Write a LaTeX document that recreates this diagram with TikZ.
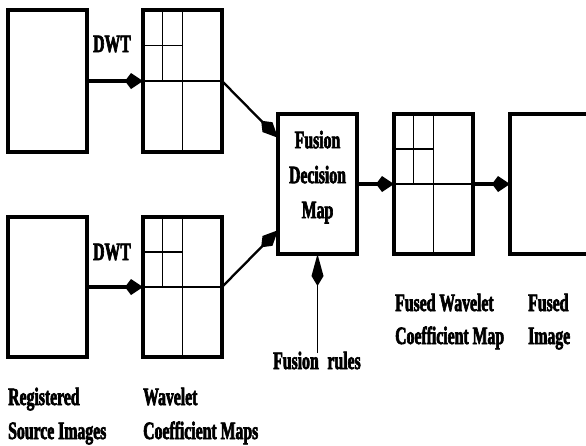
\documentclass[tikz,border=0pt]{standalone}
\usepackage{fontspec}
\newfontfamily\labfont[FakeStretch=0.63, BoldFeatures={FakeBold=2.5}]{Liberation Serif}
\usetikzlibrary{arrows.meta,calc}
\newcommand\wgrid[1]{%
  \draw[gridline] (#1.west) -- (#1.east) (#1.north) -- (#1.south)
    ($(#1.north west)!0.25!(#1.north east)$) -- ($(#1.west)!0.25!(#1.east)$)
    ($(#1.north west)!0.25!(#1.south west)$) -- ($(#1.north)!0.25!(#1.south)$);}
\begin{document}
\begin{tikzpicture}[x=1pt,y=-1pt,
  imgbox/.style={draw, line width=4.5pt, outer sep=0pt, inner sep=0pt,
    minimum width=79pt, minimum height=140pt},
  tallbox/.style={imgbox, minimum height=142pt},
  gridline/.style={line width=1.4pt},
  labfnt/.style={font=\labfont\bfseries\fontsize{25}{35}\selectfont},
  lab/.style={labfnt, inner sep=0pt, anchor=base west},
  harrow/.style={line width=3.2pt, -{Kite[length=18pt,width=16pt,inset=6pt]}},
  darrow/.style={line width=2.3pt, -{Kite[length=24pt,width=14pt,inset=9pt]}},
  rarrow/.style={line width=1.6pt, -{Kite[length=32pt,width=12pt,inset=10pt]}}]
\useasboundingbox (0,0) rectangle (586,445);
\clip (0,0) rectangle (586,445);
% boxes
\node[tallbox] (s1) at (47.5,81) {};
\node[tallbox] (w1) at (182.5,81) {};
\node[imgbox] (s2) at (47.5,287) {};
\node[imgbox] (w2) at (182.5,287) {};
\node[imgbox, align=center, labfnt, text depth=19pt] (f) at (317.5,184) {Fusion\\Decision\\Map};
\node[imgbox] (fw) at (433.5,184) {};
\node[imgbox] (fi) at (549.5,184) {};
\wgrid{w1}
\wgrid{w2}
\wgrid{fw}
% connectors
\draw[harrow] (s1.east) -- (w1.west);
\draw[harrow] (s2.east) -- (w2.west);
\coordinate (fin1) at ($(f.north west)!0.17!(f.south west)$);
\coordinate (fin2) at ($(f.north west)!0.83!(f.south west)$);
\draw[darrow] (w1.east) -- (fin1);
\draw[darrow] (w2.east) -- (fin2);
\draw[harrow] (f.east) -- (fw.west);
\draw[harrow] (fw.east) -- (fi.west);
\coordinate (rules) at (317.5,353);
\draw[rarrow] (rules) -- (f.south);
% labels
\node[lab] (dwt1) at (93,52) {DWT};
\node[lab] (dwt2) at (93,260) {DWT};
\node[lab] (l1a) at (8,405) {Registered};
\node[lab] (l1b) at (8,439) {Source Images};
\node[lab] (l2a) at (143,405) {Wavelet};
\node[lab] (l2b) at (143,439) {Coefficient Maps};
\node[lab] (l3) at (273,369) {Fusion\hspace{0.35em}rules};
\node[lab] (l4a) at (395,311) {Fused Wavelet};
\node[lab] (l4b) at (395,344) {Coefficient Map};
\node[lab] (l5a) at (528,311) {Fused};
\node[lab] (l5b) at (528,344) {Image};
\end{tikzpicture}
\end{document}
